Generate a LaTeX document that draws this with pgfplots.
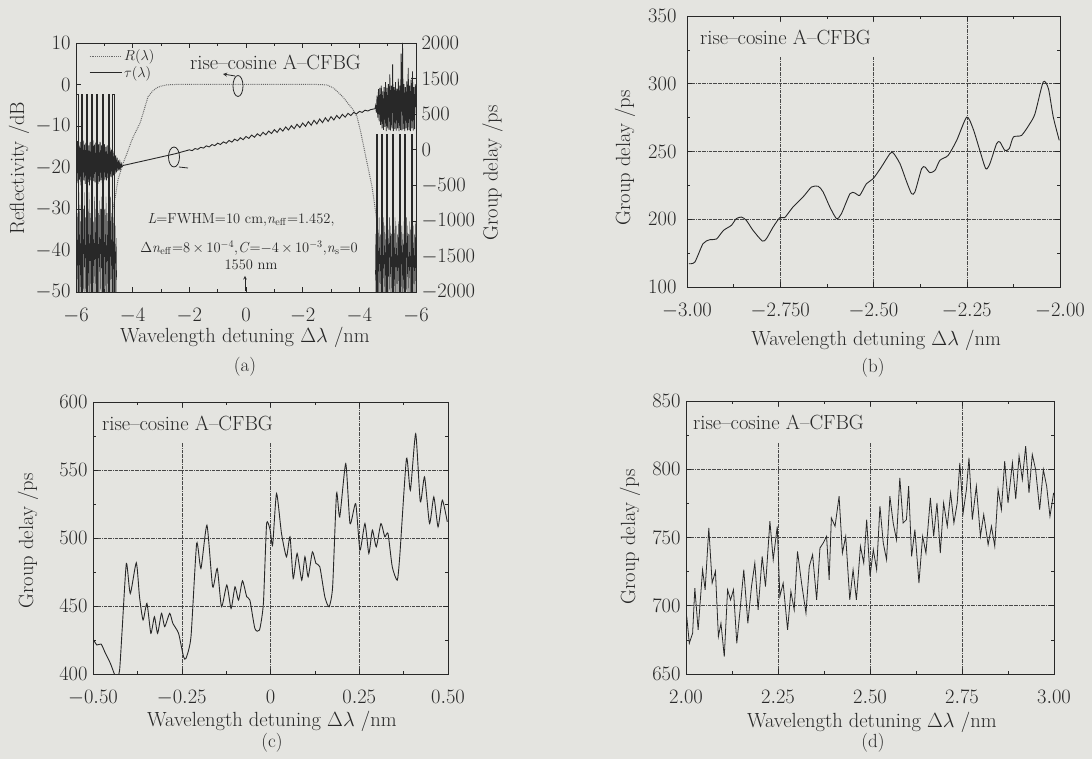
\RequirePackage{fix-cm}
\documentclass[border=0pt]{standalone}
\usepackage{pgfplots}
\pgfplotsset{compat=1.18}
\definecolor{bgc}{RGB}{228,228,224}
\definecolor{ink}{RGB}{40,40,40}
\newcommand{\bigf}{\fontsize{20.5}{24}\selectfont}
\newcommand{\smf}{\fontsize{14.5}{17}\selectfont}
\newcommand{\letf}{\fontsize{19}{22}\selectfont}

\pgfplotsset{
  panel/.style={
    scale only axis, anchor=south west,
    tick align=inside,
    major tick length=5pt, minor tick length=3pt,
    minor x tick num=1, minor y tick num=1,
    axis line style={ink, line width=0.7pt},
    tick style={ink, line width=0.5pt},
    tick label style={font=\bigf, text=ink},
    xticklabel style={yshift=-13pt},
    yticklabel style={xshift=-2pt},
    label style={font=\bigf, text=ink},
    xmajorgrids, ymajorgrids,
    grid style={ink!85, densely dashdotted, line width=0.5pt},
    every axis plot/.append style={ink, line width=0.9pt},
  },
}

\begin{document}
\begin{tikzpicture}[x=1pt,y=1pt]
\useasboundingbox (0,0) rectangle (1092,759);
\fill[bgc] (0,0) rectangle (1092,759);

% ---------------- (a) reflectivity (left axis)
\begin{axis}[panel, at={(76pt,467pt)}, width=340pt, height=249pt,
  xmin=-6, xmax=6, ymin=-50, ymax=10,
  xtick={-6,-4,...,6}, xticklabels={$-6$,$-4$,$-2$,$0$,$-2$,$-4$,$-6$},
  ytick={-50,-40,...,10}, minor y tick num=0, ytick pos=left,
  xmajorgrids=false, ymajorgrids=false,
  xlabel={Wavelength detuning $\Delta\lambda$ /nm},
  xlabel style={at={(axis description cs:0.497,-0.181)}, anchor=center},
  ylabel={Reflectivity /dB},
  ylabel style={at={(axis description cs:-0.168,0.498)}, anchor=center},
  legend style={at={(0.035,0.985)}, anchor=north west, draw=none, fill=none,
    font=\smf, text=ink, row sep=0pt, inner sep=1pt},
  legend cell align=left,
  legend image code/.code={\draw[#1] (0pt,0pt) -- (32pt,0pt);},
]
\addplot[ink!70, densely dotted, line width=1pt] coordinates {
(-4.70,-30) (-4.60,-26.5) (-4.52,-23) (-4.34,-19) (-4.20,-16.6) (-4.03,-13.4)
(-3.90,-11.5) (-3.74,-9.3) (-3.60,-6.2) (-3.46,-3.0) (-3.30,-1.6) (-3.15,-0.8)
(-3.00,-0.4) (-2.80,-0.1) (-2.50,0) (0,0) (2.50,0) (2.86,-0.1) (3.10,-0.9)
(3.42,-3.0) (3.78,-6.1) (3.92,-7.8) (4.05,-11.5) (4.20,-16.5) (4.45,-24.7)
(4.55,-29.5) (4.62,-33)};
\addlegendentry{$R(\lambda)$}
\addlegendimage{ink, solid, line width=0.9pt}
\addlegendentry{$\tau(\lambda)$}
% left side lobes
\addplot[ink, line width=0.9pt, forget plot] coordinates {
(-5.97,-50) (-5.97,-2.5) (-5.93,-2.5) (-5.93,-50)
(-5.82,-50) (-5.82,-2.5) (-5.78,-2.5) (-5.78,-50)
(-5.64,-50) (-5.64,-2.5) (-5.60,-2.5) (-5.60,-50)
(-5.47,-50) (-5.47,-2.5) (-5.43,-2.5) (-5.43,-50)
(-5.27,-50) (-5.27,-2.5) (-5.23,-2.5) (-5.23,-50)
(-5.08,-50) (-5.08,-2.5) (-5.04,-2.5) (-5.04,-50)
(-4.85,-50) (-4.85,-2.5) (-4.81,-2.5) (-4.81,-50)
(-4.70,-50) (-4.70,-2.5) (-4.66,-2.5) (-4.66,-50)};
\addplot[ink, line width=0.35pt, forget plot] coordinates {
(-6.00,-50) (-5.98,-27) (-5.96,-50) (-5.94,-31) (-5.92,-50) (-5.90,-26) (-5.88,-50)
(-5.86,-29) (-5.84,-50) (-5.82,-33) (-5.80,-50) (-5.78,-27) (-5.76,-50) (-5.74,-30)
(-5.72,-50) (-5.70,-26) (-5.68,-50) (-5.66,-32) (-5.64,-50) (-5.62,-28) (-5.60,-50)
(-5.58,-30) (-5.56,-50) (-5.54,-26) (-5.52,-50) (-5.50,-31) (-5.48,-50) (-5.46,-27)
(-5.44,-50) (-5.42,-29) (-5.40,-50) (-5.38,-33) (-5.36,-50) (-5.34,-27) (-5.32,-50)
(-5.30,-30) (-5.28,-50) (-5.26,-26) (-5.24,-50) (-5.22,-31) (-5.20,-50) (-5.18,-28)
(-5.16,-50) (-5.14,-30) (-5.12,-50) (-5.10,-27) (-5.08,-50) (-5.06,-32) (-5.04,-50)
(-5.02,-28) (-5.00,-50) (-4.98,-30) (-4.96,-50) (-4.94,-27) (-4.92,-50) (-4.90,-31)
(-4.88,-50) (-4.86,-28) (-4.84,-50) (-4.82,-30) (-4.80,-50) (-4.78,-27) (-4.76,-50)
(-4.74,-31) (-4.72,-50) (-4.70,-29) (-4.68,-50) (-4.66,-32) (-4.64,-50) (-4.62,-34)
(-4.60,-50) (-4.58,-37) (-4.56,-50)};
% right side lobes
\addplot[ink, line width=0.9pt, forget plot] coordinates {
(4.59,-50) (4.59,-12) (4.63,-12) (4.63,-50)
(4.77,-50) (4.77,-12) (4.81,-12) (4.81,-50)
(4.94,-50) (4.94,-12) (4.98,-12) (4.98,-50)
(5.18,-50) (5.18,-12) (5.22,-12) (5.22,-50)
(5.41,-50) (5.41,-12) (5.45,-12) (5.45,-50)
(5.59,-50) (5.59,-12) (5.63,-12) (5.63,-50)
(5.83,-50) (5.83,-12) (5.87,-12) (5.87,-50)};
\addplot[ink, line width=0.35pt, forget plot] coordinates {
(4.56,-50) (4.58,-36) (4.60,-50) (4.62,-33) (4.64,-50) (4.66,-35) (4.68,-50) (4.70,-32)
(4.72,-50) (4.74,-36) (4.76,-50) (4.78,-33) (4.80,-50) (4.82,-35) (4.84,-50) (4.86,-32)
(4.88,-50) (4.90,-34) (4.92,-50) (4.94,-36) (4.96,-50) (4.98,-33) (5.00,-50) (5.02,-35)
(5.04,-50) (5.06,-32) (5.08,-50) (5.10,-34) (5.12,-50) (5.14,-36) (5.16,-50) (5.18,-33)
(5.20,-50) (5.22,-35) (5.24,-50) (5.26,-32) (5.28,-50) (5.30,-34) (5.32,-50) (5.34,-36)
(5.36,-50) (5.38,-33) (5.40,-50) (5.42,-35) (5.44,-50) (5.46,-32) (5.48,-50) (5.50,-34)
(5.52,-50) (5.54,-36) (5.56,-50) (5.58,-33) (5.60,-50) (5.62,-35) (5.64,-50) (5.66,-32)
(5.68,-50) (5.70,-34) (5.72,-50) (5.74,-36) (5.76,-50) (5.78,-33) (5.80,-50) (5.82,-35)
(5.84,-50) (5.86,-32) (5.88,-50) (5.90,-34) (5.92,-50) (5.94,-36) (5.96,-50) (5.98,-33)
(6.00,-50)};
\end{axis}

% ---------------- (a) group delay (right axis)
\begin{axis}[panel, at={(76pt,467pt)}, width=340pt, height=249pt,
  xmin=-6, xmax=6, ymin=-2000, ymax=1500,
  axis x line=none, axis y line*=right,
  xmajorgrids=false, ymajorgrids=false,
  ytick={-2000,-1500,...,1500}, minor y tick num=0,
  yticklabels={$-2000$,$-1500$,$-1000$,$-500$,$0$,$500$,$1500$,$2000$},
  yticklabel style={xshift=4pt},
  ylabel={Group delay /ps},
  ylabel style={at={(axis description cs:1.225,0.478)}, anchor=center},
]
\addplot[ink, line width=0.9pt] coordinates {
(-4.34,-222) (-3.5,-147) (-3.0,-102) (-2.5,-57)
(-2.0,-2) (-1.9,-13) (-1.8,16) (-1.7,5) (-1.6,34) (-1.5,23) (-1.4,54) (-1.3,39)
(-1.2,72) (-1.1,57) (-1.0,92) (-0.9,73) (-0.8,110) (-0.7,91) (-0.6,130) (-0.5,107)
(-0.4,148) (-0.3,125) (-0.2,168) (-0.1,141) (0.0,186) (0.1,159) (0.2,206) (0.3,175)
(0.4,224) (0.5,193) (0.6,244) (0.7,209) (0.8,262) (0.9,227) (1.0,282) (1.1,243)
(1.2,300) (1.3,261) (1.4,320) (1.5,277) (1.6,338) (1.7,295) (1.8,358) (1.9,311)
(2.0,375) (2.1,328) (2.2,395) (2.3,344) (2.4,413) (2.5,362) (2.6,431) (2.7,380)
(2.8,449) (2.9,398) (3.0,465) (3.1,418) (3.2,481) (3.3,438) (3.4,497) (3.5,458)
(3.6,511) (3.7,480) (3.8,525) (3.9,502) (4.0,539) (4.1,524) (4.2,555) (4.3,544)
(4.4,563) (4.55,576)};
\addplot[ink, line width=0.8pt] coordinates {
(-6.000,90) (-5.975,-440) (-5.950,120) (-5.925,-470) (-5.900,60) (-5.875,-420)
(-5.850,110) (-5.825,-500) (-5.800,80) (-5.775,-450) (-5.750,130) (-5.725,-430)
(-5.700,70) (-5.675,-480) (-5.650,100) (-5.625,-440) (-5.600,120) (-5.575,-460)
(-5.550,60) (-5.525,-500) (-5.500,110) (-5.475,-430) (-5.450,90) (-5.425,-470)
(-5.400,130) (-5.375,-440) (-5.350,70) (-5.325,-460) (-5.300,100) (-5.275,-420)
(-5.250,120) (-5.225,-480) (-5.200,80) (-5.175,-450) (-5.150,110) (-5.125,-430)
(-5.100,60) (-5.075,-470) (-5.050,100) (-5.025,-440) (-5.000,80) (-4.975,-420)
(-4.950,40) (-4.925,-430) (-4.900,60) (-4.875,-400) (-4.850,20) (-4.825,-410)
(-4.800,30) (-4.775,-380) (-4.750,0) (-4.725,-390) (-4.700,-20) (-4.675,-360)
(-4.650,-50) (-4.625,-340) (-4.600,-80) (-4.575,-320) (-4.550,-110) (-4.525,-300)
(-4.500,-150) (-4.475,-290) (-4.450,-180) (-4.425,-260) (-4.400,-200) (-4.375,-240)
(-4.340,-222)};
\addplot[ink, line width=0.8pt] coordinates {
(4.550,576) (4.575,620) (4.600,520) (4.625,760) (4.650,450) (4.675,850) (4.700,400)
(4.725,870) (4.750,350) (4.775,900) (4.800,300) (4.825,820) (4.850,280) (4.875,880)
(4.900,320) (4.925,950) (4.950,260) (4.975,870) (5.000,300) (5.025,920) (5.050,280)
(5.075,1060) (5.100,270) (5.125,900) (5.150,300) (5.175,1200) (5.200,260) (5.225,880)
(5.250,290) (5.275,950) (5.300,270) (5.325,860) (5.350,300) (5.375,1000) (5.400,260)
(5.425,900) (5.450,280) (5.475,1350) (5.500,270) (5.525,1500) (5.550,290) (5.575,920)
(5.600,260) (5.625,880) (5.650,300) (5.675,960) (5.700,270) (5.725,1150) (5.750,280)
(5.775,900) (5.800,260) (5.825,980) (5.850,300) (5.875,1100) (5.900,270) (5.925,880)
(5.950,290) (5.975,920) (6.000,600)};
\end{axis}

% ---------------- (b)
\begin{axis}[panel, at={(687pt,472pt)}, width=373pt, height=271pt,
  xmin=-3, xmax=-2, ymin=150, ymax=350,
  xtick={-3,-2.75,-2.5,-2.25,-2}, xticklabels={$-3.00$,$-2.750$,$-2.50$,$-2.25$,$-2.00$},
  ytick={150,200,250,300,350}, yticklabels={100,200,250,300,350},
  yticklabel style={xshift=-5pt},
  xlabel={Wavelength detuning $\Delta\lambda$ /nm},
  xlabel style={at={(axis description cs:0.507,-0.196)}, anchor=center},
  ylabel={Group delay /ps},
  ylabel style={at={(axis description cs:-0.166,0.476)}, anchor=center},
]
\addplot[smooth, tension=0.4] coordinates {
(-2.995,167.2) (-2.979,168.4) (-2.957,182.0) (-2.939,184.9) (-2.921,185.4) (-2.902,191.8)
(-2.881,195.5) (-2.868,200.4) (-2.854,201.6) (-2.841,199.2) (-2.823,191.8) (-2.798,183.9)
(-2.787,185.7) (-2.769,194.3) (-2.751,201.2) (-2.738,201.2) (-2.716,209.0) (-2.689,216.4)
(-2.666,223.8) (-2.648,224.3) (-2.635,220.1) (-2.617,209.0) (-2.599,200.4) (-2.586,204.1)
(-2.563,218.9) (-2.550,219.4) (-2.537,217.6) (-2.519,226.2) (-2.501,229.9) (-2.479,238.5)
(-2.456,248.4) (-2.447,248.9) (-2.429,241.0) (-2.411,227.5) (-2.398,218.9) (-2.389,220.1)
(-2.371,237.3) (-2.362,238.5) (-2.349,234.4) (-2.335,236.1) (-2.322,243.5) (-2.300,247.1)
(-2.277,258.2) (-2.250,275.4) (-2.233,266.8) (-2.215,250.8) (-2.199,237.3) (-2.188,241.0)
(-2.170,255.8) (-2.161,257.0) (-2.148,250.8) (-2.136,252.1) (-2.125,260.7) (-2.103,261.9)
(-2.081,270.5) (-2.067,277.9) (-2.045,301.3) (-2.031,296.3) (-2.018,275.4) (-2.002,258.2)};
\end{axis}

% ---------------- (c)
\begin{axis}[panel, at={(93pt,85pt)}, width=355pt, height=272pt,
  xmin=-0.5, xmax=0.5, ymin=400, ymax=600,
  xtick={-0.5,-0.25,0,0.25,0.5}, xticklabels={$-0.50$,$-0.25$,$0$,$0.25$,$0.50$},
  ytick={400,450,...,600},
  xlabel={Wavelength detuning $\Delta\lambda$ /nm},
  xlabel style={at={(axis description cs:0.504,-0.176)}, anchor=center},
  ylabel={Group delay /ps},
  ylabel style={at={(axis description cs:-0.183,0.489)}, anchor=center},
]
\addplot[smooth, tension=0.35] coordinates {
(-0.498,425.0) (-0.489,421.3) (-0.477,422.0) (-0.465,415.2) (-0.451,407.8) (-0.437,398.0)
(-0.433,395.6) (-0.425,403.0) (-0.418,432.0) (-0.406,481.3) (-0.395,459.2) (-0.378,481.8)
(-0.369,456.8) (-0.359,439.7) (-0.348,451.9) (-0.337,429.9) (-0.327,442.1) (-0.318,429.9)
(-0.307,444.6) (-0.298,434.8) (-0.284,444.6) (-0.275,437.2) (-0.259,429.9) (-0.245,412.7)
(-0.238,411.5) (-0.224,427.4) (-0.208,496.0) (-0.196,477.6) (-0.179,509.4) (-0.163,464.1)
(-0.150,477.6) (-0.138,449.4) (-0.123,465.4) (-0.111,448.2) (-0.100,464.1) (-0.090,454.3)
(-0.079,468.5) (-0.067,456.8) (-0.058,454.3) (-0.044,433.5) (-0.031,432.3) (-0.020,451.9)
(-0.011,510.2) (-0.001,505.8) (0.006,494.7) (0.017,532.7) (0.031,503.3) (0.045,486.2)
(0.055,500.9) (0.064,470.3) (0.075,488.6) (0.088,469.0) (0.097,486.2) (0.106,471.5)
(0.118,489.8) (0.128,481.3) (0.139,478.8) (0.153,456.8) (0.165,449.4) (0.175,464.1)
(0.186,532.7) (0.195,515.5) (0.212,554.7) (0.224,510.6) (0.240,525.3) (0.252,491.1)
(0.266,510.6) (0.277,488.6) (0.287,505.8) (0.298,493.5) (0.311,510.6) (0.322,500.9)
(0.331,503.3) (0.343,478.8) (0.357,469.0) (0.364,486.2) (0.383,558.4) (0.394,535.1)
(0.409,576.7) (0.422,526.6) (0.434,544.9) (0.448,510.6) (0.460,530.2) (0.472,508.2)
(0.484,527.8) (0.498,511.9)};
\end{axis}

% ---------------- (d)
\begin{axis}[panel, at={(686pt,85pt)}, width=368pt, height=273pt,
  xmin=2, xmax=3, ymin=650, ymax=850,
  xtick={2,2.25,2.5,2.75,3}, xticklabels={$2.00$,$2.25$,$2.50$,$2.75$,$3.00$},
  ytick={650,700,...,850},
  xlabel={Wavelength detuning $\Delta\lambda$ /nm},
  xlabel style={at={(axis description cs:0.505,-0.176)}, anchor=center},
  ylabel={Group delay /ps},
  ylabel style={at={(axis description cs:-0.152,0.502)}, anchor=center},
]
\addplot[line width=0.8pt] coordinates {
(2.002,692.1) (2.009,672.5) (2.018,679.9) (2.024,712.9) (2.033,682.3) (2.045,726.4)
(2.052,711.7) (2.062,757.0) (2.071,716.6) (2.080,725.2) (2.088,677.4) (2.095,687.2)
(2.104,662.7) (2.113,711.7) (2.121,704.3) (2.129,711.7) (2.138,672.5) (2.147,697.0)
(2.157,726.4) (2.168,687.2) (2.178,714.1) (2.187,731.3) (2.196,697.0) (2.207,736.2)
(2.216,714.1) (2.228,761.9) (2.237,733.7) (2.248,758.2) (2.255,706.8) (2.264,716.6)
(2.276,682.3) (2.285,710.5) (2.294,697.0) (2.303,739.8) (2.314,716.6) (2.326,694.6)
(2.335,728.8) (2.344,737.4) (2.355,704.3) (2.364,742.3) (2.373,746.0) (2.382,750.9)
(2.389,719.0) (2.395,764.3) (2.405,758.2) (2.416,780.2) (2.425,738.6) (2.434,750.9)
(2.445,704.3) (2.454,726.4) (2.463,704.3) (2.474,743.5) (2.483,731.3) (2.491,763.1)
(2.500,721.5) (2.509,741.1) (2.518,726.4) (2.527,772.9) (2.536,746.0) (2.545,733.7)
(2.554,780.2) (2.563,760.6) (2.572,748.4) (2.581,793.7) (2.590,760.6) (2.599,763.1)
(2.605,787.6) (2.613,736.2) (2.622,755.8) (2.633,716.6) (2.643,750.9) (2.652,738.6)
(2.664,779.0) (2.673,750.9) (2.682,775.3) (2.691,738.6) (2.700,775.3) (2.710,758.2)
(2.719,782.7) (2.728,760.6) (2.737,775.3) (2.744,804.7) (2.753,768.0) (2.762,785.1)
(2.769,808.4) (2.778,763.1) (2.789,787.6) (2.800,750.9) (2.809,766.8) (2.821,744.7)
(2.830,758.2) (2.839,743.5) (2.848,785.1) (2.857,770.4) (2.866,805.9) (2.875,775.3)
(2.887,804.7) (2.896,778.2) (2.905,809.6) (2.914,792.5) (2.923,817.0) (2.932,782.7)
(2.941,810.8) (2.950,799.8) (2.961,770.4) (2.971,799.8) (2.980,787.6) (2.989,765.5)
(2.999,782.7)};
\end{axis}

% title boxes (hide the grid behind the titles)
\fill[bgc] (693,736) rectangle (912,702);
\fill[bgc] (99,351) rectangle (304,317);
\fill[bgc] (692,352) rectangle (900,316);
\node[anchor=west, font=\bigf, text=ink, inner sep=0pt] at (190,697) {rise--cosine A--CFBG};
\node[anchor=west, font=\bigf, text=ink, inner sep=0pt] at (700,722) {rise--cosine A--CFBG};
\node[anchor=west, font=\bigf, text=ink, inner sep=0pt] at (102,336) {rise--cosine A--CFBG};
\node[anchor=west, font=\bigf, text=ink, inner sep=0pt] at (693,337) {rise--cosine A--CFBG};

% parameter block in (a)
\node[font=\smf, text=ink] at (241,539) {\textit{L}=FWHM=10 cm,\textit{n}$_\mathrm{eff}$=1.452,};
\node[font=\smf, text=ink] at (249,511) {$\Delta$\textit{n}$_\mathrm{eff}$=8\,$\times$\,10$^{-4}$,\textit{C}=$-$4\,$\times$\,10$^{-3}$,\textit{n}$_\mathrm{s}$=0};
\node[font=\smf, text=ink] at (251,494) {1550 nm};
\draw[ink, line width=0.6pt, -stealth] (245,468) -- (245,483);

% axis markers in (a)
\draw[ink, line width=0.8pt] (238,673) ellipse (5pt and 10.5pt);
\draw[ink, line width=0.8pt, -stealth] (235,683) -- (223,685);
\draw[ink, line width=0.8pt] (174,602) ellipse (5.5pt and 10pt);
\draw[ink, line width=0.8pt] (179,592) -- (188,591);

% panel letters
\node[font=\letf, text=ink] at (245,392) {(a)};
\node[font=\letf, text=ink] at (873,391) {(b)};
\node[font=\letf, text=ink] at (272,16) {(c)};
\node[font=\letf, text=ink] at (873,16) {(d)};
\end{tikzpicture}
\end{document}
